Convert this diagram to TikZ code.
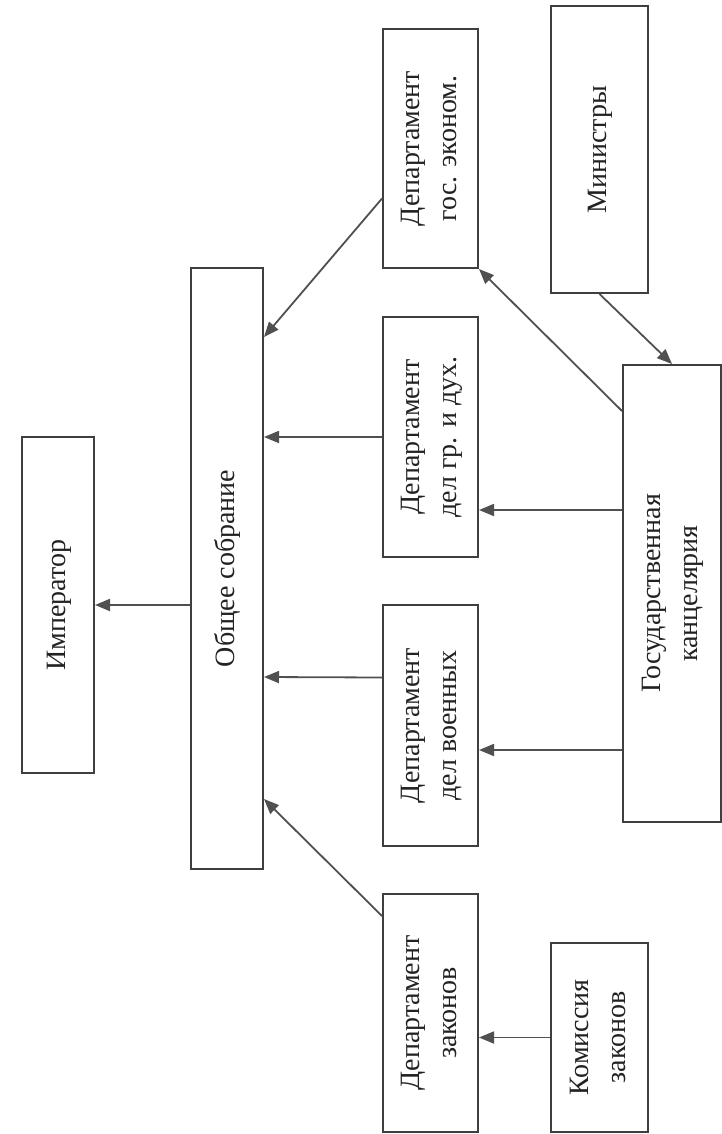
\documentclass[tikz,border=0pt]{standalone}
\usepackage{fontspec}
\setmainfont{Liberation Serif}
\usetikzlibrary{arrows.meta}
\definecolor{boxgray}{HTML}{3F3F3F}
\definecolor{linegray}{HTML}{505050}
\definecolor{textgray}{HTML}{222222}
\tikzset{
  >={Triangle[length=15pt,width=12pt]},
}
\newcommand{\vlabel}[1]{\rotatebox{90}{\begin{tabular}{@{}c@{}}#1\end{tabular}}}

\begin{document}
\begin{tikzpicture}[
      x=1pt, y=-1pt,
      unit/.style={draw=boxgray, line width=2pt, inner sep=0pt, text=textgray,
                   font=\fontsize{28}{37}\selectfont},
      link/.style={->, draw=linegray, fill=linegray, line width=1.8pt},
    ]
      \useasboundingbox[fill=white] (0,0) rectangle (722,1134);
      % left column
      \node [unit, minimum width=72pt, minimum height=336pt] (emperor) at (58,605) {\vlabel{Император}};
      \node [unit, minimum width=72pt, minimum height=601pt] (assembly) at (227,568.5) {\vlabel{Общее собрание}};
      % departments
      \node [unit, minimum width=95pt, minimum height=239pt] (econ) at (430.5,148.5) {\vlabel{Департамент\\гос. эконом.}};
      \node [unit, minimum width=95pt, minimum height=240pt] (civil) at (430.5,437) {\vlabel{Департамент\\дел гр. и дух.}};
      \node [unit, minimum width=95pt, minimum height=241pt] (military) at (430.5,725.5) {\vlabel{Департамент\\дел военных}};
      \node [unit, minimum width=95pt, minimum height=238pt] (laws) at (430.5,1013) {\vlabel{Департамент\\законов}};
      % right column
      \node [unit, minimum width=97pt, minimum height=287pt] (ministers) at (599.5,149.5) {\vlabel{Министры}};
      \node [unit, minimum width=98pt, minimum height=457pt] (chancery) at (672,593.5) {\vlabel{Государственная\\канцелярия}};
      \node [unit, minimum width=97pt, minimum height=189pt] (commission) at (599.5,1037.5) {\vlabel{Комиссия\\законов}};

      \draw [link] (assembly.west |- emperor.east) -- (emperor.east);
      \draw [link] ([yshift=-50pt]econ.west) -- ([yshift=-70pt]assembly.north east);
      \draw [link] (civil.west) -- (assembly.east |- civil.west);
      \draw [link] ([yshift=48pt]military.west) -- (assembly.east |- 0,677);
      \draw [link] ([yshift=-23pt]laws.north west) -- ([yshift=71pt]assembly.south east);
      \draw [link] (ministers.south) -- (chancery.north);
      \draw [link] ([yshift=-47pt]chancery.north west) -- (econ.south east);
      \draw [link] (chancery.west |- 0,510) -- (civil.east |- 0,510);
      \draw [link] (chancery.west |- 0,750) -- (military.east |- 0,750);
      \draw [link] (commission.west) -- (laws.east |- commission.west);
    \end{tikzpicture}
\end{document}
